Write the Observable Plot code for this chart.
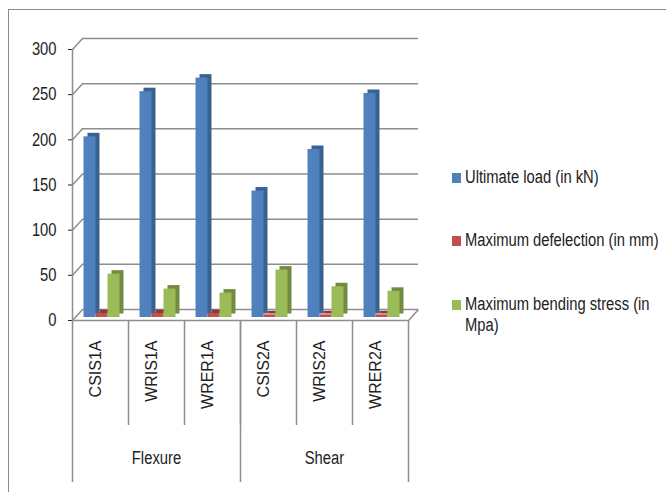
<!DOCTYPE html>
<html><head><meta charset="utf-8">
<script src="https://cdn.jsdelivr.net/npm/d3@7"></script>
<script src="https://cdn.jsdelivr.net/npm/@observablehq/plot@0.6"></script>
<style>
body{margin:0;background:#fff;}
#wrap{position:relative;width:666px;height:492px;overflow:hidden;background:#fff;}
#border{position:absolute;left:8px;top:9px;width:700px;height:520px;border-top:1.5px solid #8a8a8a;border-left:1.5px solid #8a8a8a;}
#chart{position:absolute;left:0;top:0;}
.leg{position:absolute;left:465px;width:244px;font-family:"Liberation Sans",Arial,sans-serif;font-size:18px;color:#222;line-height:21.5px;transform:scaleX(0.82);transform-origin:left top;}
.sw{position:absolute;left:452px;width:9px;height:10px;}
</style></head><body>
<div id="wrap"><div id="border"></div><div id="chart"></div><div id="legend"></div></div>
<script>
// ---- data ----
const samples = ["CSIS1A","WRIS1A","WRER1A","CSIS2A","WRIS2A","WRER2A"];
const groupOf = ["Flexure","Flexure","Flexure","Shear","Shear","Shear"];
const groups = ["Flexure","Shear"];
const seriesNames = ["Ultimate load (in kN)","Maximum defelection (in mm)","Maximum bending stress (in Mpa)"];
const ultimateLoad = [200,250,265,140,186,248];
const maxDeflection = [4.5,4.5,4.5,3,3,3];
const bendingStress = [48,31.5,27,52.5,34,29];
const yTicks = [0,50,100,150,200,250,300];

// ---- styles ----
const frontColors = ["#4F81BD","#C0504D","#9BBB59"];
const sideColors  = ["#3A6290","#8E3A38","#728B42"];
const lineColor = "#8e8e8e";
const half = 28; // half band step in px (style offset for band edges)

const seriesValues = [ultimateLoad, maxDeflection, bendingStress];
const rows = samples.flatMap((s, i) => seriesValues.map((vals, k) => ({sample: s, series: k, value: vals[i]})));

const diag = {draw(ctx) { ctx.moveTo(0, 0); ctx.lineTo(10, -11); }};

const barMarks = [];
seriesNames.forEach((name, k) => {
  const insetLeft = 11.5 + 12 * k;
  const insetRight = 56 - insetLeft - 12;
  barMarks.push(Plot.barY(rows, {filter: d => d.series === k, x: "sample", y: "value",
    fill: sideColors[k], insetLeft, insetRight, dx: 4, dy: -6.5}));
  barMarks.push(Plot.barY(rows, {filter: d => d.series === k, x: "sample", y: "value",
    fill: frontColors[k], insetLeft, insetRight, dy: -3}));
});

const groupStarts = groups.map(g => samples[groupOf.indexOf(g)]);
const groupMiddles = groups.map(g => {
  const idx = groupOf.map((v, i) => v === g ? i : -1).filter(i => i >= 0);
  return samples[idx[Math.floor(idx.length / 2)]];
});

const chart = Plot.plot({
  width: 666, height: 492,
  marginLeft: 72, marginRight: 258, marginTop: 49, marginBottom: 172,
  style: {fontFamily: '"Liberation Sans",Arial,sans-serif', fontSize: "18px", color: "#222", background: "transparent"},
  x: {domain: samples, paddingInner: 0, paddingOuter: 0, axis: null},
  y: {domain: [0, 300], ticks: yTicks, tickSize: 4, tickPadding: 12, label: null},
  marks: [
    // back wall gridlines
    Plot.ruleY(yTicks, {dx: 10, dy: -11, stroke: lineColor, strokeWidth: 1.5}),
    // diagonal connectors from front axis to back wall
    Plot.dot(yTicks, {x: () => samples[0], y: d => d, symbol: diag, dx: -half, stroke: lineColor, fill: "none", strokeWidth: 1.5}),
    Plot.dot([0], {x: () => samples[samples.length - 1], y: d => d, symbol: diag, dx: half, stroke: lineColor, fill: "none", strokeWidth: 1.5}),
    // front floor edge
    Plot.ruleY([0], {stroke: lineColor, strokeWidth: 1.5}),
    ...barMarks,
    // front vertical axis line, continuing as the first separator
    Plot.ruleX([samples[0]], {x: d => d, dx: -half, insetBottom: -162, stroke: lineColor, strokeWidth: 1.5}),
    // sample separators
    Plot.ruleX(samples.slice(1), {x: d => d, dx: -half, insetTop: 271, insetBottom: -105, stroke: lineColor, strokeWidth: 1.5}),
    // group separators
    Plot.ruleX(groupStarts.slice(1), {x: d => d, dx: -half, insetTop: 271, insetBottom: -162, stroke: lineColor, strokeWidth: 1.5}),
    Plot.ruleX([samples[samples.length - 1]], {x: d => d, dx: half, insetTop: 271, insetBottom: -162, stroke: lineColor, strokeWidth: 1.5}),
    // sample labels
    Plot.text(samples, {x: d => d, text: d => d, frameAnchor: "bottom", dy: 20, rotate: -90, textAnchor: "end",
      fontFamily: '"Liberation Sans",Arial,sans-serif', fontSize: 16, fill: "#222"}),
    // group labels
    Plot.text(groups, {x: (d, i) => groupMiddles[i], text: d => d, frameAnchor: "bottom", dy: 143,
      fontFamily: '"Liberation Sans",Arial,sans-serif', fontSize: 19, fill: "#222"})
  ]
});
document.getElementById("chart").appendChild(chart);

// narrow the axis tick labels and group labels horizontally (condensed look of the original)
function condense(textEl, s) {
  const xAttr = textEl.getAttribute("x");
  if (xAttr !== null && xAttr !== "") textEl.setAttribute("x", (+xAttr / s).toString());
  const tr = textEl.getAttribute("transform") || "";
  textEl.setAttribute("transform", (tr + ` scale(${s},1)`).trim());
}
d3.select(chart).selectAll("g").each(function() {
  const lab = this.getAttribute("aria-label") || "";
  if (lab.startsWith("y-axis")) {
    d3.select(this).selectAll("text").each(function() { condense(this, 0.82); });
  }
});
d3.select(chart).selectAll("text").each(function() {
  if (groups.includes(this.textContent)) condense(this, 0.78);
});

// legend
const legendTops = [166.5, 229.5, 293.5];
const swatchTops = [173, 236, 300];
const legend = document.getElementById("legend");
seriesNames.forEach((name, k) => {
  const sw = document.createElement("div");
  sw.className = "sw";
  sw.style.top = swatchTops[k] + "px";
  sw.style.background = frontColors[k];
  legend.appendChild(sw);
  const t = document.createElement("div");
  t.className = "leg";
  t.style.top = legendTops[k] + "px";
  t.textContent = name;
  legend.appendChild(t);
});
</script>
</body></html>
